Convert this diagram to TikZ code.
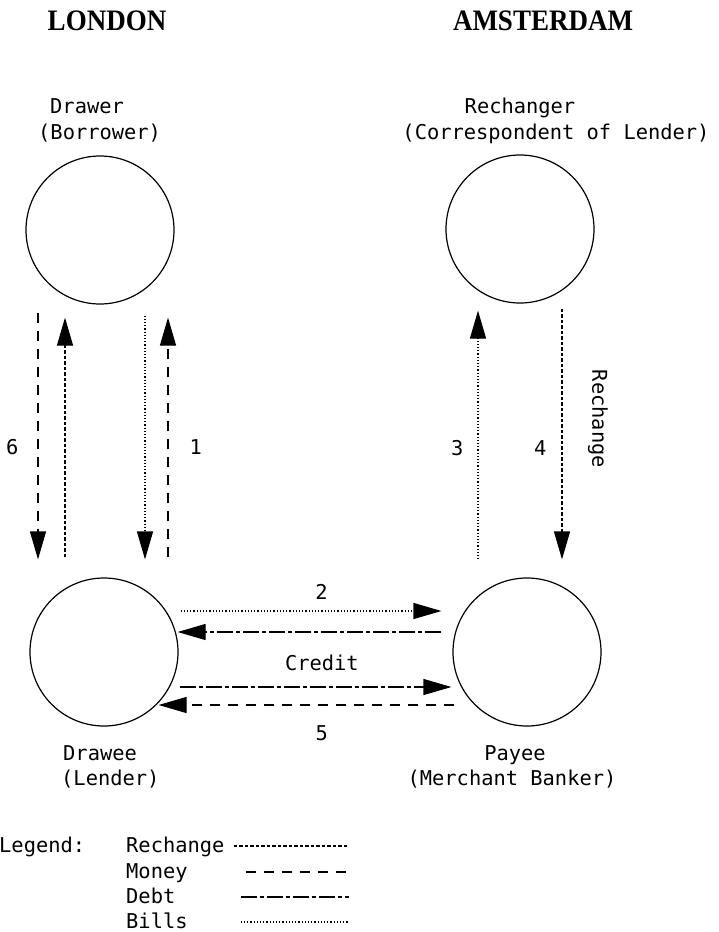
\documentclass[tikz,border=0pt]{standalone}
\usepackage{fontspec}
\setmonofont{DejaVu Sans Mono}
\newfontfamily\townfont{Liberation Serif}
\usepackage{tikz}
\usetikzlibrary{arrows.meta}

\tikzset{
  party/.style={draw, circle, line width=1.2pt, minimum size=148pt, inner sep=0pt},
  txt/.style={font=\ttfamily\fontsize{20.4}{25}\selectfont, inner sep=0pt},
  city/.style={font=\townfont\fontsize{27}{32}\selectfont\bfseries, inner sep=0pt},
  flow/.style={line width=1.2pt, ->, >={Triangle[length=28pt,width=16pt]}},
  bills/.style={flow, dash pattern=on 1.2pt off 2pt},
  money/.style={flow, dash pattern=on 10pt off 8pt},
  rechange/.style={flow, dash pattern=on 3.5pt off 2pt},
  debt/.style={flow, dash pattern=on 16pt off 3pt on 4pt off 3pt},
}

\begin{document}
\begin{tikzpicture}[x=1pt, y=-1pt]
        \useasboundingbox (0,0) rectangle (718,932);

        %%-London
        \node[city, anchor=base] (london) at (107,30) {\scalebox{1}[1.1]{LONDON}};
        \node[party] (drawer) at (100,230) {};
        \node[txt, anchor=base west] (drawername) at (50,113) {Drawer};
        \node[txt, anchor=base west] (drawerrole) at (38,139) {(Borrower)};
        \node[party] (drawee) at (104,652) {};
        \node[txt, anchor=base west] (draweename) at (63,760) {Drawee};
        \node[txt, anchor=base west] (draweerole) at (61,785) {(Lender)};

        \draw[money] ([xshift=-62pt,yshift=-8pt]drawer.south) -- ([xshift=-66pt,yshift=18pt]drawee.north) node[txt, pos=.544, left=19pt] (six) {6};
        \draw[rechange] ([xshift=-39pt,yshift=20pt]drawee.north) -- ([xshift=-35pt,yshift=-13pt]drawer.south);
        \draw[bills] ([xshift=45pt,yshift=-11pt]drawer.south) -- ([xshift=41pt,yshift=18pt]drawee.north);
        \draw[money] ([xshift=64pt,yshift=20pt]drawee.north) -- ([xshift=68pt,yshift=-13pt]drawer.south) node[txt, pos=.46, right=21pt] (one) {1};

        %% Amsterdam
        \node[city, anchor=base] (amsterdam) at (543,30) {\scalebox{1}[1.1]{AMSTERDAM}};
        \node[party] (rechanger) at (520,229) {};
        \node[txt, anchor=base] (rechangername) at (520,113) {Rechanger};
        \node[txt, anchor=base] (rechangerrole) at (556,139) {(Correspondent of Lender)};
        \node[party] (payee) at (527,652) {};
        \node[txt, anchor=base] (payeename) at (515,760) {Payee};
        \node[txt, anchor=base] (payeerole) at (512,785) {(Merchant Banker)};

        \draw[bills] ([xshift=-49pt,yshift=18pt]payee.north) -- ([xshift=-42pt,yshift=-7pt]rechanger.south) node[txt, pos=.448, left=14pt] (three) {3};
        \draw[rechange] ([xshift=42pt,yshift=-5pt]rechanger.south) -- ([xshift=35pt,yshift=18pt]payee.north) node[txt, pos=.556, left=15pt] (four) {4} node[txt, pos=.44, xshift=36pt, rotate=-90] (rechangetag) {Rechange};

        %% between the towns
        \draw[bills] ([xshift=2pt,yshift=41pt]drawee.east) -- ([xshift=-11pt,yshift=41pt]payee.west) node[txt, pos=.54, above=10.5pt] (two) {2};
        \draw[debt] ([xshift=-11pt,yshift=20pt]payee.west) -- ([xshift=-1pt,yshift=20pt]drawee.east) node[txt, pos=.453, below=22.5pt] (credit) {Credit};
        \draw[debt] ([xshift=1pt,yshift=-35pt]drawee.east) -- ([xshift=-1pt,yshift=-35pt]payee.west);
        \draw[money] ([xshift=2pt,yshift=-53pt]payee.west) -- ([xshift=-20pt,yshift=-53pt]drawee.east) node[txt, pos=.448, below=20pt] (five) {5};

        %% legend
        \node[txt, anchor=base west] (legend) at (-1,852) {Legend:};
        \node[txt, anchor=base west] (keyrechange) at (126,852) {Rechange};
        \node[txt, anchor=base west] (keymoney) at (126,878) {Money};
        \node[txt, anchor=base west] (keydebt) at (126,903) {Debt};
        \node[txt, anchor=base west] (keybills) at (126,928) {Bills};
        \draw[rechange, -] ([yshift=6pt]keyrechange.base east) ++(9,0) -- ++(115,0);
        \draw[money, -] ([yshift=6pt]keymoney.base east) ++(58,0) -- ++(102,0);
        \draw[debt, -] ([yshift=6pt]keydebt.base east) ++(65,0) -- ++(108,0);
        \draw[bills, -] ([yshift=6pt]keybills.base east) ++(53,0) -- ++(107,0);

\end{tikzpicture}
\end{document}
